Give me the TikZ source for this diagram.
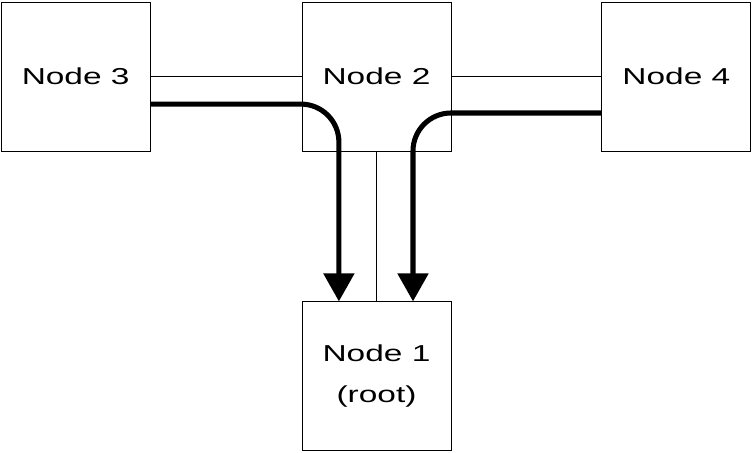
\documentclass[tikz,border=0pt]{standalone}
\usepackage{fontspec}
\newfontfamily\boxfont{Liberation Sans}[FakeStretch=1.45]
\usetikzlibrary{positioning}
\usetikzlibrary{arrows.meta}
\usetikzlibrary{calc}

\begin{document}
\begin{tikzpicture}[
    box/.style={draw, line width=0.6pt, minimum size=3.725cm, inner sep=0pt,
        align=center, font=\boxfont\fontsize{16.4}{29}\selectfont},
    link/.style={line width=0.6pt},
    route/.style={line width=3.6pt, rounded corners=0.95cm,
        -{Triangle[width=0.75cm,length=0.7cm]}},
    node distance=3.75cm
]
    \useasboundingbox (0,0) rectangle (18.825,11.325);

    % Nodes
    \node[box] (n2) at (9.4125,9.4125) {Node 2};
    \node[box, left=3.775cm of n2] (n3) {Node 3};
    \node[box, right=of n2] (n4) {Node 4};
    \node[box, below=of n2] (n1) {Node 1\\(root)};

    % Links
    \draw[link] (n3) -- (n2);
    \draw[link] (n2) -- (n4);
    \draw[link] (n2) -- (n1);

    % Paths to root
    \coordinate (s3) at ($(n3.east)+(0,-0.69)$);
    \coordinate (s4) at ($(n4.west)+(0,-0.9125)$);
    \coordinate (e3) at ($(n1.north)+(-0.94,0)$);
    \coordinate (e4) at ($(n1.north)+(0.9125,0)$);
    \draw[route] (s3) -| (e3);
    \draw[route] (s4) -| (e4);

\end{tikzpicture}
\end{document}
